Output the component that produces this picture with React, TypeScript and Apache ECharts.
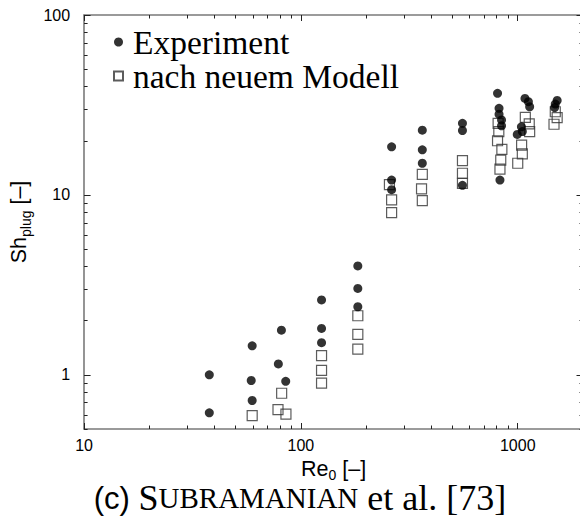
import React, { useEffect, useRef } from 'react';
import * as echarts from 'echarts';

// Sh_plug vs Re_0 — measured (Experiment) and model (nach neuem Modell)
const experiment: [number, number][] = [
  [37.8, 1.0], [37.8, 0.615],
  [59.6, 1.45], [59.0, 0.93], [59.6, 0.72],
  [81.3, 1.77], [78.7, 1.15], [85.1, 0.92],
  [124.5, 2.61], [124.5, 1.81], [124.5, 1.51],
  [183, 4.03], [183, 3.02], [183, 2.39],
  [262, 18.5], [262, 12.1], [262, 10.7],
  [363, 22.9], [363, 17.8], [363, 15.0],
  [556, 25.0], [556, 22.8], [556, 11.3],
  [807, 36.7], [820, 30.3], [820, 28.1], [842, 26.1], [842, 24.2], [828, 12.1],
  [1080, 34.4], [1120, 33.0], [1135, 30.9], [1040, 23.9], [1050, 22.5], [995, 21.7],
  [1520, 33.5], [1490, 32.0], [1480, 30.6],
];

const model: [number, number][] = [
  [59.6, 0.594],
  [81.5, 0.79], [78.4, 0.64], [85.3, 0.605],
  [124.5, 1.28], [124.5, 1.06], [124.5, 0.9],
  [183, 2.13], [183, 1.68], [183, 1.39],
  [256, 11.4], [262, 9.38], [262, 7.97],
  [363, 13.0], [360, 10.8], [363, 9.3],
  [556, 15.5], [556, 13.2], [556, 11.6],
  [812, 25.0], [818, 22.5], [807, 20.0], [845, 17.9], [835, 15.6], [828, 13.9],
  [1084, 27.0], [1130, 24.8], [1135, 22.5], [1042, 18.9], [1050, 16.9], [1000, 15.0],
  [1490, 29.0], [1520, 26.9], [1470, 24.7],
];

const xMajor = [10, 100, 1000];
const xMinor = [20, 30, 40, 50, 60, 70, 80, 90, 200, 300, 400, 500, 600, 700, 800, 900, 2000];
const yMajor = [1, 10, 100];
const yMinor = [0.5, 0.6, 0.7, 0.8, 0.9, 2, 3, 4, 5, 6, 7, 8, 9, 20, 30, 40, 50, 60, 70, 80, 90];

const seriesNames = ['Experiment', 'nach neuem Modell'];

const X_MIN = 10, X_MAX = 2000, Y_MIN = 0.5, Y_MAX = 100;

const SANS = '"Liberation Sans", Arial, sans-serif';
const SERIF = '"Liberation Serif", "Times New Roman", serif';

export default function App() {
  const ref = useRef<HTMLDivElement>(null);
  useEffect(() => {
    if (!ref.current) return;
    const chart = echarts.init(ref.current, undefined, { renderer: 'svg' });
    const lineStyle = { color: '#7a7a7a', width: 1.6 };
    const tickStyle = { color: '#222', width: 1 };
    const fmt = (v: number) => String(v);
    const mkX = (pos: 'bottom' | 'top', major: boolean, extra: any = {}) => ({
      type: 'log', logBase: 10, min: X_MIN, max: X_MAX, position: pos, gridIndex: 0,
      axisLine: { show: major, lineStyle },
      axisTick: { show: true, inside: true, length: major ? 6 : 3.5, customValues: major ? xMajor : xMinor, lineStyle: tickStyle },
      axisLabel: { show: false },
      splitLine: { show: false },
      minorTick: { show: false },
      ...extra,
    });
    const mkY = (pos: 'left' | 'right', major: boolean, extra: any = {}) => ({
      type: 'log', logBase: 10, min: Y_MIN, max: Y_MAX, position: pos, gridIndex: 0,
      axisLine: { show: major, lineStyle },
      axisTick: { show: true, inside: true, length: major ? 6.5 : 3.5, customValues: major ? yMajor : yMinor, lineStyle: tickStyle },
      axisLabel: { show: false },
      splitLine: { show: false },
      minorTick: { show: false },
      ...extra,
    });
    const nameRich = {
      a: { fontFamily: SANS, fontSize: 21.5, color: '#000' },
      b: { fontFamily: SANS, fontSize: 14, color: '#000', padding: [13, 0, 0, 0] },
    };
    chart.setOption({
      animation: false,
      backgroundColor: '#fff',
      grid: { left: 82, top: 15, width: 501, height: 414, containLabel: false },
      legend: {
        orient: 'vertical', left: 113, top: 25, padding: 0,
        itemWidth: 9, itemHeight: 9, itemGap: 0,
        selectedMode: false,
        data: [
          { name: seriesNames[0], icon: 'circle' },
          { name: seriesNames[1], icon: 'rect' },
        ],
        textStyle: { fontFamily: SERIF, fontSize: 33.5, color: '#000', lineHeight: 32, padding: [0, 0, 0, 5] },
      },
      xAxis: [
        mkX('bottom', true, {
          axisLabel: { show: true, customValues: xMajor, formatter: fmt, fontFamily: SANS, fontSize: 16, color: '#000', margin: 8 },
          name: '{a|Re}{b|0}{a| [–]}',
          nameLocation: 'middle', nameGap: 16,
          nameTextStyle: { rich: nameRich },
        }),
        mkX('bottom', false),
        mkX('top', true),
        mkX('top', false),
      ],
      yAxis: [
        mkY('left', true, {
          axisLabel: { show: true, customValues: yMajor, formatter: fmt, fontFamily: SANS, fontSize: 16, color: '#000', margin: 14 },
          name: '{a|Sh}{b|plug}{a| [–]}',
          nameLocation: 'middle', nameGap: 50,
          nameTextStyle: { rich: nameRich },
        }),
        mkY('left', false),
        mkY('right', true),
        mkY('right', false),
      ],
      series: [
        {
          name: seriesNames[0], type: 'scatter', xAxisIndex: 0, yAxisIndex: 0,
          symbol: 'circle', symbolSize: 9,
          itemStyle: { color: '#000' },
          data: experiment, z: 3,
        },
        {
          name: seriesNames[1], type: 'scatter', xAxisIndex: 0, yAxisIndex: 0,
          symbol: 'rect', symbolSize: 10,
          itemStyle: { color: 'rgba(255,255,255,0)', borderColor: '#333', borderWidth: 1.2 },
          data: model, z: 2,
        },
      ],
      graphic: [
        {
          type: 'text', x: 300, y: 498, z: 10,
          style: {
            text: '{s|(c) }{n|S}{k|UBRAMANIAN}{n| et al. [73]}',
            align: 'center', verticalAlign: 'middle',
            rich: {
              s: { fontFamily: SANS, fontSize: 31, fill: '#000' },
              n: { fontFamily: SERIF, fontSize: 36, fill: '#000' },
              k: { fontFamily: SERIF, fontSize: 29, fill: '#000' },
            },
          },
        },
      ],
    });
    return () => chart.dispose();
  }, []);
  return (
    <div style={{ position: 'fixed', left: 0, top: 0, width: 580, height: 521, overflow: 'hidden', background: '#fff' }}>
      <div ref={ref} style={{ width: 600, height: 521 }} />
    </div>
  );
}
